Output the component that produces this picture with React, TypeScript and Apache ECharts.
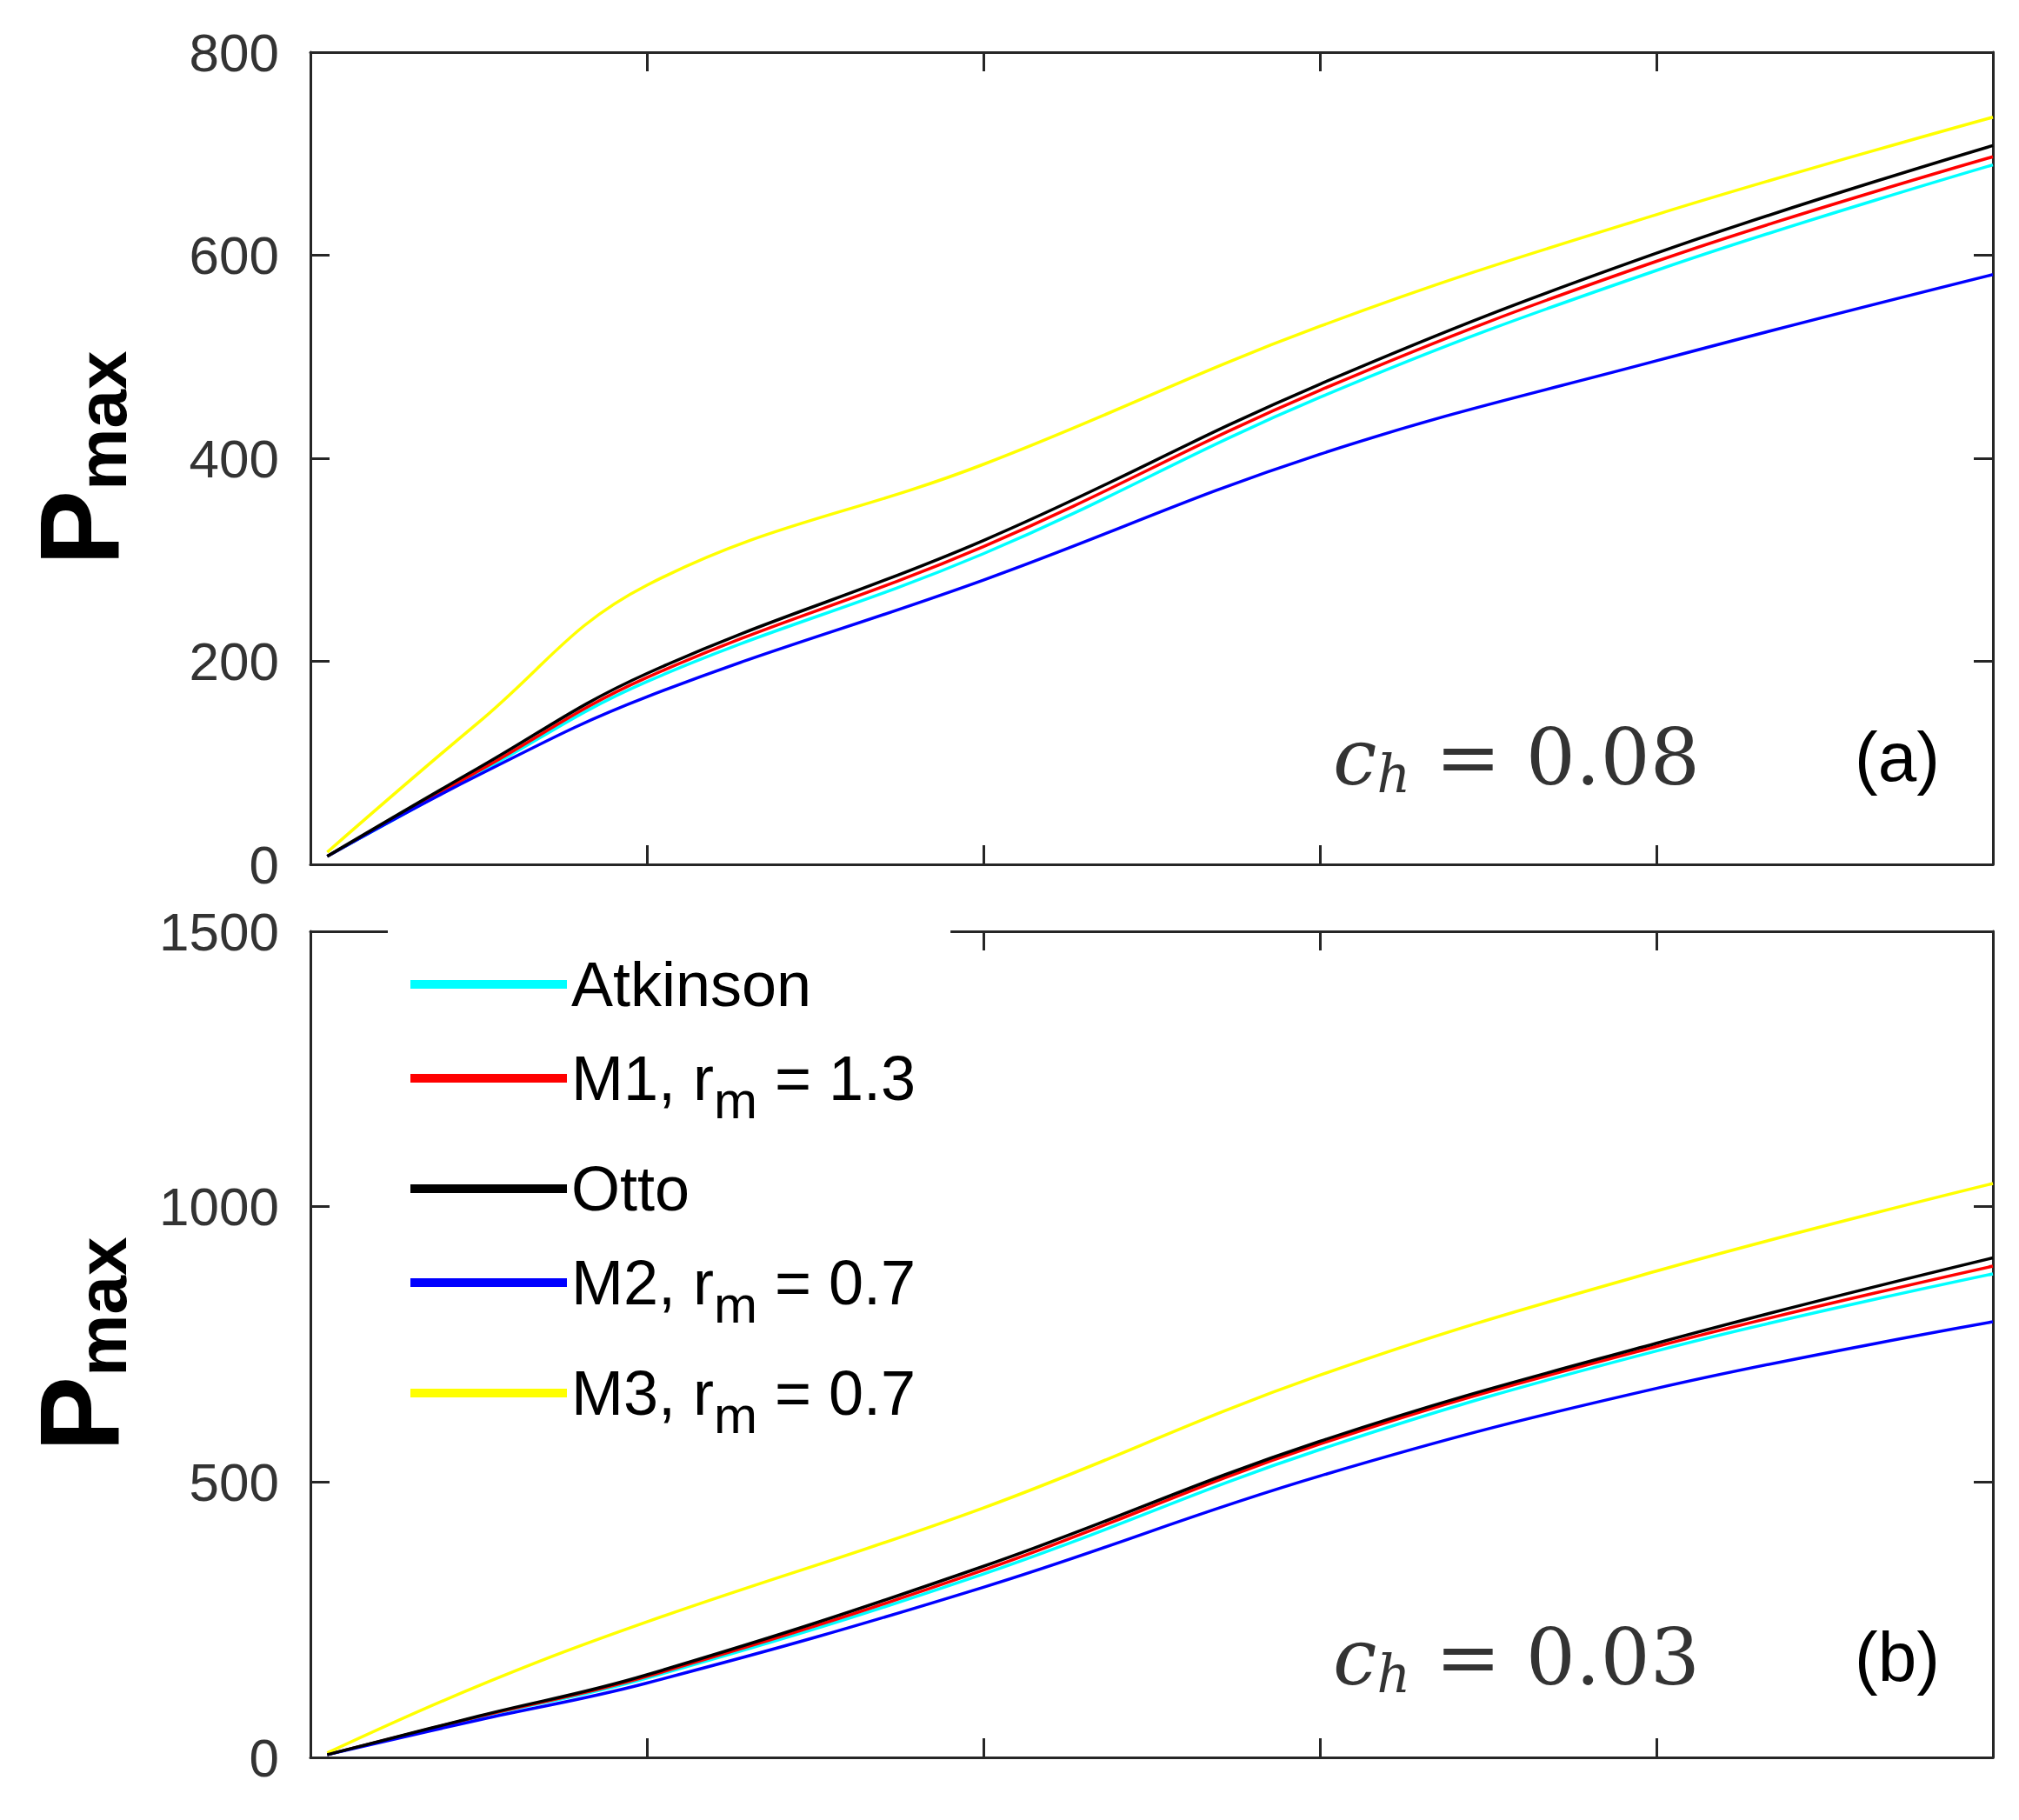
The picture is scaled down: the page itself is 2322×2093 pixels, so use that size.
import React, { useEffect, useRef } from 'react';
import * as echarts from 'echarts';

const xs = [0.01, 0.1, 0.2, 0.4, 0.6, 0.8, 1.0];

// panel (a), c_h = 0.08
const aAtkinson = [8, 90, 180, 306, 460, 585, 689];
const aM1 = [8, 92, 184, 313, 467, 594, 697];
const aOtto = [8, 95, 188, 319, 473, 602, 708];
const aM2 = [8, 88, 165, 280, 404, 496, 581];
const aM3 = [12, 140, 275, 394, 530, 640, 736];

// panel (b), c_h = 0.03
const bAtkinson = [5, 73, 144, 333, 559, 738, 878];
const bM1 = [5, 74, 147, 340, 569, 746, 892];
const bOtto = [5, 75, 150, 347, 574, 752, 907];
const bM2 = [5, 68, 135, 309, 511, 670, 791];
const bM3 = [8, 130, 246, 453, 694, 883, 1042];

const names = ['Atkinson', 'M1', 'Otto', 'M2', 'M3'];
const colors = ['#00ffff', '#ff0000', '#000000', '#0000ff', '#ffff00'];
const legendText: Record<string, string> = {
  Atkinson: '{a|Atkinson}',
  M1: '{a|M1, r}{s|m}{a| = 1.3}',
  Otto: '{a|Otto}',
  M2: '{a|M2, r}{s|m}{a| = 0.7}',
  M3: '{a|M3, r}{s|m}{a| = 0.7}',
};

const axisColor = '#262626';

const App: React.FC = () => {
  const ref = useRef<HTMLDivElement>(null);

  useEffect(() => {
    document.body.style.margin = '0';
    if (!ref.current) return;
    const chart = echarts.init(ref.current, undefined, { renderer: 'svg' });

    const xAxis = (grid: number, pos: 'bottom' | 'top') => ({
      type: 'value', gridIndex: grid, position: pos, min: 0, max: 1, interval: 0.2,
      axisLine: { show: true, onZero: false, lineStyle: { color: axisColor, width: 3 } },
      axisTick: { show: true, inside: true, length: 22, lineStyle: { color: axisColor, width: 3 } },
      axisLabel: { show: false }, splitLine: { show: false },
    });
    const yAxis = (grid: number, pos: 'left' | 'right', max: number, interval: number) => ({
      type: 'value', gridIndex: grid, position: pos, min: 0, max, interval,
      axisLine: { show: true, onZero: false, lineStyle: { color: axisColor, width: 3 } },
      axisTick: { show: true, inside: true, length: 22, lineStyle: { color: axisColor, width: 3 } },
      axisLabel: pos === 'left'
        ? { show: true, fontSize: 62, color: '#333', margin: 36, fontFamily: 'Liberation Sans', formatter: (v: number) => String(v) }
        : { show: false },
      splitLine: { show: false },
      ...(pos === 'left' ? {
        name: '{p|P}{s|max}', nameLocation: 'middle', nameRotate: 90, nameGap: 200,
        nameTextStyle: {
          rich: {
            p: { fontSize: 130, fontWeight: 'bold', color: '#000', fontFamily: 'Liberation Sans' },
            s: { fontSize: 80, fontWeight: 'bold', color: '#000', fontFamily: 'Liberation Sans', padding: [50, 0, 0, 0] },
          },
        },
      } : {}),
    });

    const mk = (grid: number, arrs: number[][]) => arrs.map((arr, i) => ({
      name: names[i], type: 'line', xAxisIndex: grid * 2, yAxisIndex: grid * 2,
      data: xs.map((x, j) => [x, arr[j]]), smooth: 0.4, showSymbol: false,
      lineStyle: { color: colors[i], width: 3.5 }, itemStyle: { color: colors[i] },
      z: i === 2 ? 5 : 3,
    }));

    const annot = (x: number, y: number, val: string, tag: string) => [
      {
        type: 'text', x, y, style: {
          text: '{c|c}{h|h}{e| = ' + val + '}', verticalAlign: 'middle',
          rich: {
            c: { fontSize: 90, fontStyle: 'italic', fontFamily: 'DejaVu Serif', fill: '#333' },
            h: { fontSize: 60, fontStyle: 'italic', fontFamily: 'DejaVu Serif', fill: '#333', padding: [40, 0, 0, 0] },
            e: { fontSize: 90, fontFamily: 'DejaVu Serif', fill: '#333' },
          },
        },
      },
      {
        type: 'text', x: x + 600, y, style: {
          text: tag, fontSize: 80, fontFamily: 'Liberation Sans', fill: '#000', verticalAlign: 'middle',
        },
      },
    ];

    chart.setOption({
      animation: false,
      backgroundColor: '#fff',
      grid: [
        { left: 357, top: 60, width: 1935, height: 934 },
        { left: 357, top: 1071, width: 1935, height: 950 },
      ],
      xAxis: [xAxis(0, 'bottom'), xAxis(0, 'top'), xAxis(1, 'bottom'), xAxis(1, 'top')],
      yAxis: [yAxis(0, 'left', 800, 200), yAxis(0, 'right', 800, 200), yAxis(1, 'left', 1500, 500), yAxis(1, 'right', 1500, 500)],
      legend: {
        data: names, orient: 'vertical', left: 446, top: 1066,
        backgroundColor: '#fff', padding: [30, 40, 10, 26],
        itemWidth: 180, itemHeight: 10, itemGap: 36, icon: 'rect',
        formatter: (n: string) => legendText[n],
        textStyle: {
          rich: {
            a: { fontSize: 72, fontFamily: 'Liberation Sans', color: '#000' },
            s: { fontSize: 60, fontFamily: 'Liberation Sans', color: '#000', padding: [50, 0, 0, 0] },
          },
        },
      },
      graphic: [...annot(1533, 870, '0.08', '(a)'), ...annot(1533, 1905, '0.03', '(b)')],
      series: [
        ...mk(0, [aAtkinson, aM1, aOtto, aM2, aM3]),
        ...mk(1, [bAtkinson, bM1, bOtto, bM2, bM3]),
      ],
    });

    return () => chart.dispose();
  }, []);

  return <div ref={ref} style={{ width: 2322, height: 2093 }} />;
};

export default App;
